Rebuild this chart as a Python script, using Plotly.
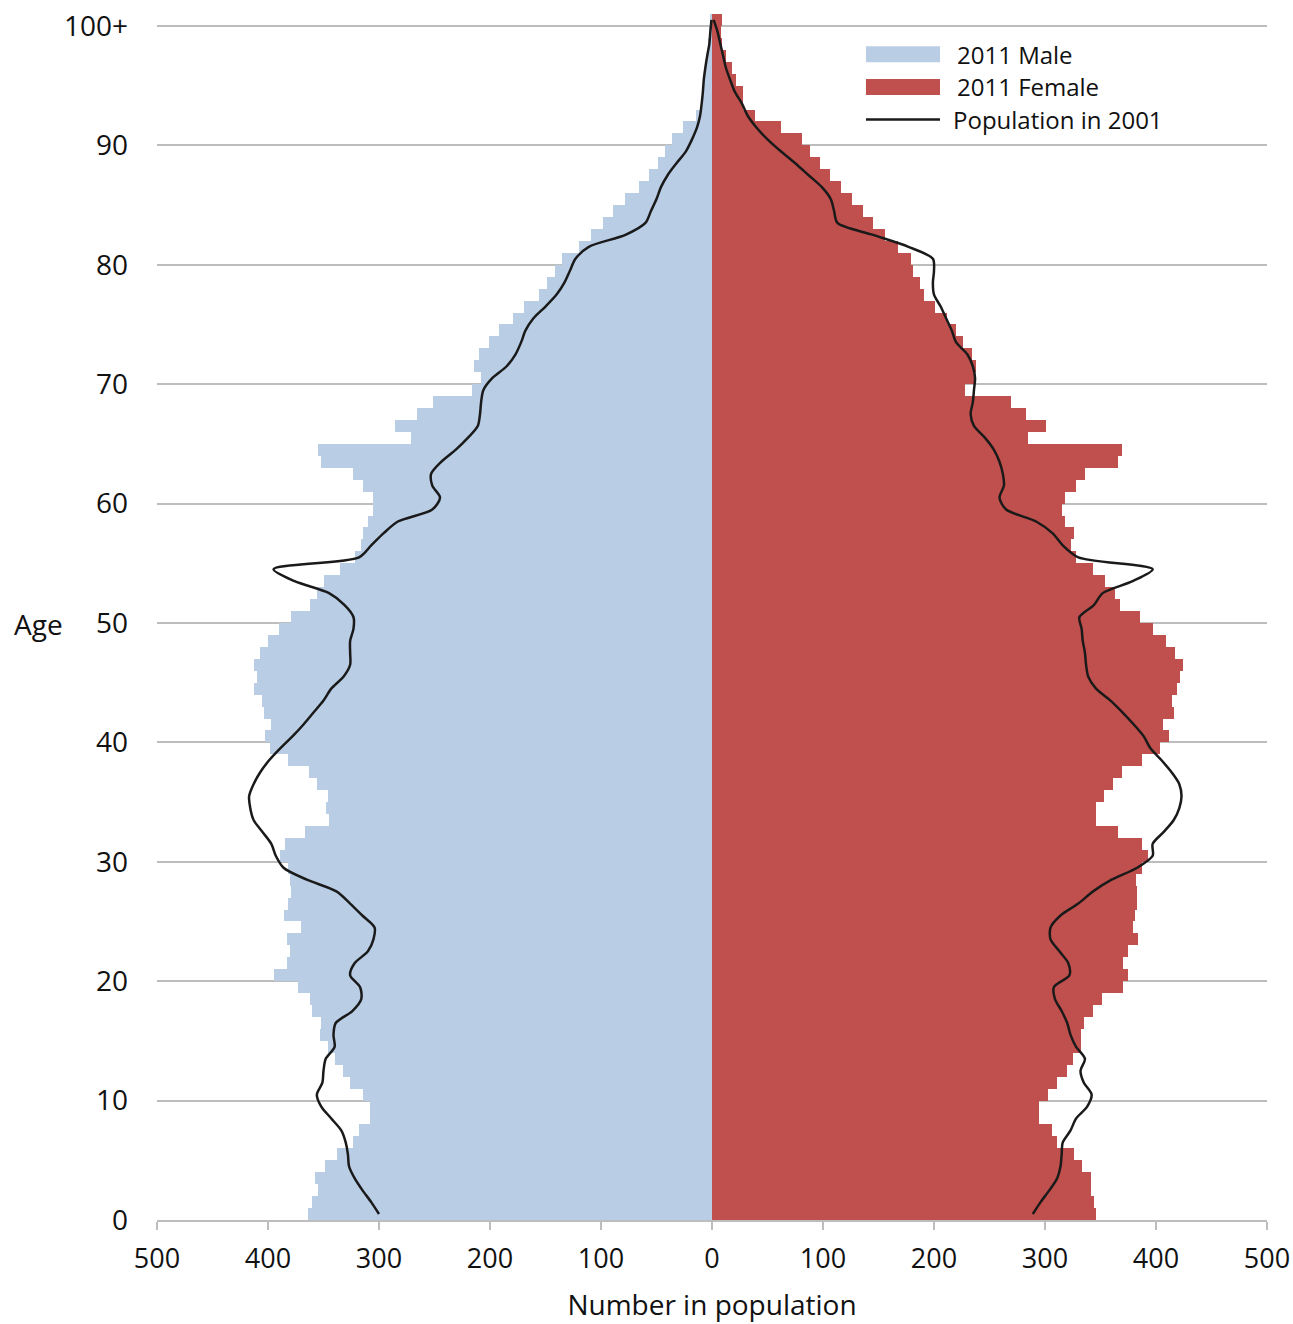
import plotly.graph_objects as go

# ---------------- data ----------------
ages = list(range(101))
tick_ages = list(range(0, 101, 10))
tick_age_labels = ["0", "10", "20", "30", "40", "50", "60", "70", "80", "90", "100+"]
x_ticks = [-500, -400, -300, -200, -100, 0, 100, 200, 300, 400, 500]
x_tick_labels = ["500", "400", "300", "200", "100", "0", "100", "200", "300", "400", "500"]

male_2011 = [364, 360, 355, 358, 349, 338, 323, 318, 308, 308,
             314, 326, 332, 340, 346, 353, 352, 360, 362, 373,
             395, 383, 380, 383, 370, 386, 382, 379, 380, 382,
             389, 385, 367, 345, 348, 346, 356, 363, 382, 398,
             403, 397, 404, 405, 413, 410, 413, 407, 400, 390,
             379, 362, 356, 350, 335, 322, 316, 314, 310, 305,
             305, 314, 323, 352, 355, 271, 286, 266, 251, 216,
             208, 214, 210, 201, 192, 179, 169, 156, 149, 141,
             135, 120, 109, 98, 89, 78, 66, 57, 49, 42,
             36, 26, 14, 10, 8.4, 7, 5.5, 4.4, 3.5, 2.5,
             2]

female_2011 = [346, 344, 341, 341, 333, 326, 311, 306, 295, 295,
               303, 311, 320, 325, 332, 332, 335, 343, 351, 370,
               375, 370, 375, 384, 379, 381, 383, 383, 382, 387,
               393, 387, 366, 346, 346, 353, 361, 369, 387, 404,
               412, 406, 416, 414, 419, 422, 424, 417, 409, 397,
               386, 368, 363, 354, 343, 328, 323, 326, 318, 315,
               318, 328, 336, 366, 369, 285, 301, 283, 269, 228,
               237, 238, 234, 226, 220, 212, 201, 191, 187, 181,
               179, 168, 156, 145, 136, 126, 116, 106, 97, 88,
               81, 62, 39, 28, 27.6, 22, 17.7, 12.6, 8.7, 7.8,
               8.7]

# 2001 population, read at the middle of each single year of age
male_2001 = [300, 307, 315, 322, 327, 328, 330, 334, 343, 352,
             356, 351, 350, 348, 340, 341, 339, 324, 316, 317,
             326, 322, 310, 305, 304, 315, 326, 338, 365, 386,
             393, 397, 405, 413, 416, 417, 413, 407, 399, 389,
             378, 368, 359, 350, 343, 332, 326, 326, 326, 323,
             323, 331, 345, 376, 395, 318, 307, 296, 283, 252,
             245, 252, 253, 244, 231, 220, 211, 209, 208, 206,
             198, 185, 177, 172, 168, 161, 150, 140, 133, 128,
             123, 111, 78, 60, 55, 50, 46, 40, 32, 23.5,
             18, 13.5, 10.7, 9.3, 8.2, 7.4, 6, 4.3, 2.4, 1.5,
             0.5]

female_2001 = [289, 296, 304, 311, 314, 315, 316, 323, 328, 338,
               342, 335, 332, 336, 328, 323, 320, 315, 309, 308,
               322, 321, 313, 305, 305, 314, 330, 343, 360, 383,
               397, 397, 407, 416, 421, 423, 421, 414, 405, 395,
               389, 380, 370, 359, 346, 339, 337, 336, 334, 333,
               331, 344, 352, 379, 397, 330, 316, 307, 292, 265,
               259, 263, 262, 259, 254, 246, 236, 233, 235, 236,
               237, 235, 230, 220, 216, 211, 206, 200, 199, 200,
               199, 177, 145, 113, 110, 107, 99, 87, 75, 62,
               50, 40, 32, 27, 20.5, 16.3, 12.5, 10, 7.5, 5,
               1.5]

# ---------------- styles ----------------
MALE_COLOR = "#b9cde5"
FEMALE_COLOR = "#c0504d"
LINE_COLOR = "#1a1a1a"
GRID_COLOR = "#bdbdbd"
FONT = "Open Sans"

mid = [a + 0.5 for a in ages]

fig = go.Figure()
fig.add_trace(go.Bar(
    y=mid, x=[-v for v in male_2011], orientation="h", width=1,
    marker=dict(color=MALE_COLOR, line=dict(width=0)),
    name="2011 Male", showlegend=False,
))
fig.add_trace(go.Bar(
    y=mid, x=female_2011, orientation="h", width=1,
    marker=dict(color=FEMALE_COLOR, line=dict(width=0)),
    name="2011 Female", showlegend=False,
))
fig.add_trace(go.Scatter(
    y=mid, x=[-v for v in male_2001], mode="lines",
    line=dict(color=LINE_COLOR, width=2.5, shape="spline", smoothing=0.8),
    name="Population in 2001", showlegend=False,
))
fig.add_trace(go.Scatter(
    y=mid, x=female_2001, mode="lines",
    line=dict(color=LINE_COLOR, width=2.5, shape="spline", smoothing=0.8),
    name="Population in 2001", showlegend=False,
))

fig.update_layout(
    width=1293, height=1324,
    margin=dict(l=157, r=26, t=14, b=104, autoexpand=False),
    paper_bgcolor="white", plot_bgcolor="white",
    barmode="overlay", bargap=0,
    font=dict(family=FONT, size=27, color="#111111"),
    xaxis=dict(
        range=[-500, 500], tickvals=x_ticks, ticktext=x_tick_labels,
        showgrid=False, zeroline=False, automargin=False,
        showline=True, linecolor=GRID_COLOR, linewidth=2,
        ticks="outside", ticklen=8, tickwidth=2, tickcolor=GRID_COLOR,
        tickfont=dict(size=27), ticklabelstandoff=6, ticklabeloverflow="allow",
        title=dict(text="Number in population", font=dict(size=28), standoff=20),
    ),
    xaxis2=dict(
        overlaying="x", anchor="y", side="bottom", automargin=False,
        range=[-500, 500], tickvals=x_ticks,
        showticklabels=False, showgrid=False, zeroline=False, showline=False,
        ticks="inside", ticklen=7, tickwidth=2, tickcolor=GRID_COLOR,
    ),
    yaxis=dict(
        range=[0, 101], tickvals=tick_ages, ticktext=tick_age_labels,
        showgrid=True, gridcolor=GRID_COLOR, gridwidth=2, automargin=False,
        zeroline=False, showline=False, ticks="",
        tickfont=dict(size=28), ticklabelstandoff=28, ticklabeloverflow="allow",
    ),
    yaxis2=dict(
        overlaying="y", anchor="free", position=0.5, side="left", automargin=False,
        range=[0, 101], tickvals=tick_ages,
        showticklabels=False, showgrid=False, zeroline=False,
        showline=True, linecolor=GRID_COLOR, linewidth=3,
        ticks="outside", ticklen=8, tickwidth=3, tickcolor=GRID_COLOR,
    ),
    yaxis3=dict(
        overlaying="y", anchor="free", position=0.5, side="right", automargin=False,
        range=[0, 101], tickvals=tick_ages,
        showticklabels=False, showgrid=False, zeroline=False, showline=False,
        ticks="outside", ticklen=8, tickwidth=3, tickcolor=GRID_COLOR,
    ),
)

# y-axis title (horizontal)
fig.add_annotation(text="Age", xref="paper", yref="paper", x=-0.107, y=0.494,
                   xanchor="center", yanchor="middle", showarrow=False,
                   font=dict(size=28, family=FONT, color="#111111"))

# custom legend (wide swatches as in the original)
legend_items = [
    ("2011 Male", "rect", MALE_COLOR, 0.9666),
    ("2011 Female", "rect", FEMALE_COLOR, 0.9395),
    ("Population in 2001", "line", LINE_COLOR, 0.9125),
]
sw_x0, sw_x1, txt_x = 0.6387, 0.7054, 0.7189
sw_h = 0.0066
for label, kind, color, yc in legend_items:
    if kind == "rect":
        fig.add_shape(type="rect", xref="paper", yref="paper",
                      x0=sw_x0, x1=sw_x1, y0=yc - sw_h, y1=yc + sw_h,
                      fillcolor=color, line=dict(width=0))
    else:
        fig.add_shape(type="line", xref="paper", yref="paper",
                      x0=sw_x0, x1=sw_x1, y0=yc, y1=yc,
                      line=dict(color=color, width=2.5))
    fig.add_annotation(text=label, xref="paper", yref="paper", x=txt_x - (0.004 if kind == "line" else 0),
                       y=yc, xanchor="left", yanchor="middle", showarrow=False,
                       font=dict(size=24, family=FONT, color="#111111"))

# remove the default page margin so the figure sits at the window's top-left corner
fig.write_html("out.html",
               config={"displayModeBar": False},
               post_script="document.body.style.margin='0';document.body.style.overflow='hidden';")
